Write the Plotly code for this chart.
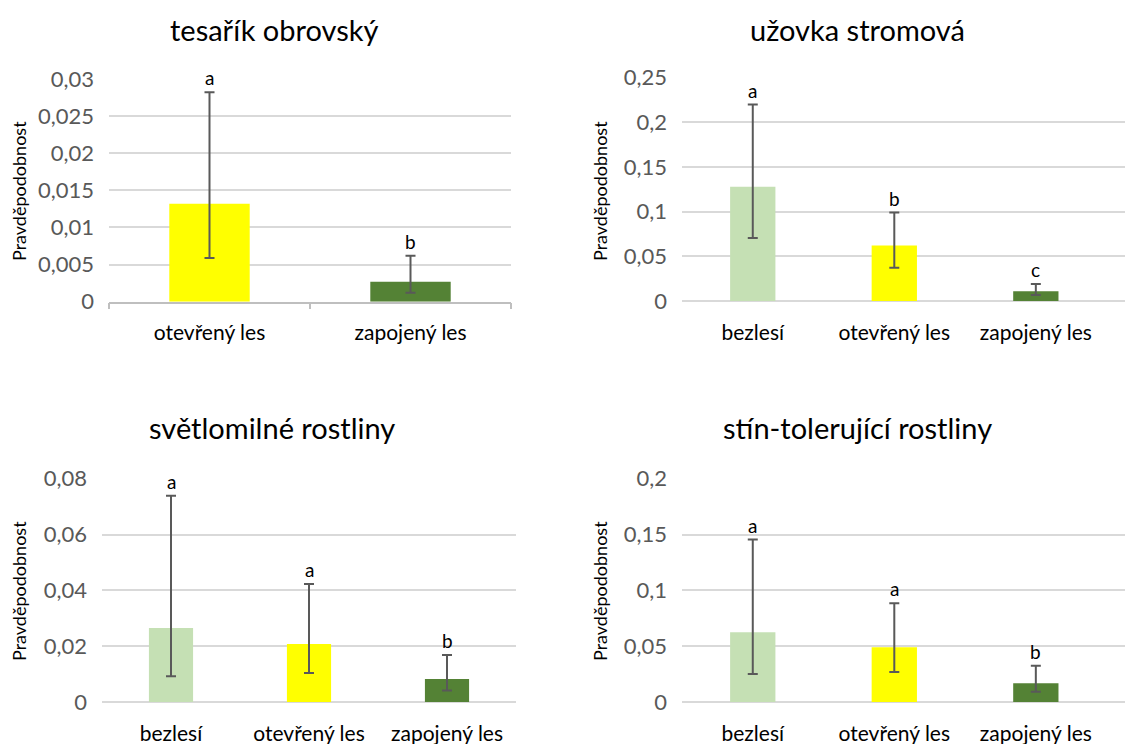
import plotly.graph_objects as go

W, H = 1125, 744

# ---- data ----
titles = ["tesařík obrovský", "užovka stromová", "světlomilné rostliny", "stín-tolerující rostliny"]
cats_2 = ["otevřený les", "zapojený les"]
cats_3 = ["bezlesí", "otevřený les", "zapojený les"]

tesarik_vals = [0.0132, 0.0027]
tesarik_hi = [0.0282, 0.0062]
tesarik_lo = [0.0059, 0.0012]
tesarik_letters = ["a", "b"]

uzovka_vals = [0.128, 0.062, 0.011]
uzovka_hi = [0.220, 0.099, 0.019]
uzovka_lo = [0.0705, 0.0373, 0.0067]
uzovka_letters = ["a", "b", "c"]

svetlo_vals = [0.0265, 0.0208, 0.0082]
svetlo_hi = [0.0739, 0.0423, 0.0168]
svetlo_lo = [0.0092, 0.0104, 0.0041]
svetlo_letters = ["a", "a", "b"]

stin_vals = [0.0624, 0.049, 0.0167]
stin_hi = [0.1455, 0.0884, 0.0325]
stin_lo = [0.0251, 0.0269, 0.0092]
stin_letters = ["a", "a", "b"]

y_ranges = [[0, 0.03], [0, 0.25], [0, 0.08], [0, 0.2]]
y_dticks = [0.005, 0.05, 0.02, 0.05]

col_bez = "#C5E0B4"
col_otev = "#FFFF00"
col_zap = "#548235"
colors_2 = [col_otev, col_zap]
colors_3 = [col_bez, col_otev, col_zap]

FONT = "Lato, 'Open Sans', sans-serif"
GRAY = "#595959"
GRID = "#D9D9D9"

# panel geometry in pixels: (x0, x1, y_top, y_bottom) and x range
panels = [
    dict(x=(109, 511), y=(79, 301.7), xr=[-0.5, 1.5]),
    dict(x=(682, 1125), y=(77.7, 301), xr=[-0.5, 2.63]),
    dict(x=(102, 516), y=(478.7, 702), xr=[-0.5, 2.5]),
    dict(x=(682, 1125), y=(478.7, 702), xr=[-0.5, 2.63]),
]

data = [
    (cats_2, tesarik_vals, tesarik_hi, tesarik_lo, tesarik_letters, colors_2),
    (cats_3, uzovka_vals, uzovka_hi, uzovka_lo, uzovka_letters, colors_3),
    (cats_3, svetlo_vals, svetlo_hi, svetlo_lo, svetlo_letters, colors_3),
    (cats_3, stin_vals, stin_hi, stin_lo, stin_letters, colors_3),
]

fig = go.Figure()
annotations = []
title_pos = [(274, 30), (857, 30), (272, 428), (857, 428)]
ytitle_pos = [(19, 191), (600, 191), (19, 591), (600, 591)]

for i, (p, (cats, vals, hi, lo, letters, cols)) in enumerate(zip(panels, data)):
    n = i + 1
    xa = "x" if n == 1 else f"x{n}"
    ya = "y" if n == 1 else f"y{n}"
    width = 0.4 if len(cats) == 2 else 0.32
    fig.add_trace(go.Bar(
        x=cats, y=vals, marker=dict(color=cols, line=dict(width=0)),
        width=width,
        error_y=dict(type="data", symmetric=False,
                     array=[h - v for h, v in zip(hi, vals)],
                     arrayminus=[v - l for v, l in zip(vals, lo)],
                     color=GRAY, thickness=2, width=5),
        xaxis=xa, yaxis=ya, showlegend=False, hoverinfo="skip",
    ))
    xkey = "xaxis" if n == 1 else f"xaxis{n}"
    ykey = "yaxis" if n == 1 else f"yaxis{n}"
    x0, x1 = p["x"]
    yt, yb = p["y"]
    fig.layout[xkey] = dict(
        domain=[x0 / W, x1 / W], anchor=ya, type="category", range=p["xr"],
        showgrid=False, zeroline=False, automargin=False, fixedrange=True,
        showline=(n == 1), linecolor="#BFBFBF", linewidth=1.5,
        ticks="outside" if n == 1 else "", tickson="boundaries",
        ticklen=6, tickcolor="#BFBFBF", tickwidth=1.5,
        tickfont=dict(family=FONT, size=21, color="#000000"),
        ticklabelstandoff=11 if n == 1 else 17,
    )
    fig.layout[ykey] = dict(
        domain=[(H - yb) / H, (H - yt) / H], anchor=xa,
        range=y_ranges[i], dtick=y_dticks[i], tick0=0,
        automargin=False, fixedrange=True,
        showgrid=True, gridcolor=GRID, gridwidth=1.5,
        zeroline=(n != 1), zerolinecolor=GRID, zerolinewidth=1.5,
        showline=False, ticks="",
        tickfont=dict(family=FONT, size=22, color=GRAY),
        ticklabelstandoff=14,
    )
    # significance letters
    for c, h, L in zip(cats, hi, letters):
        annotations.append(dict(
            x=c, y=h, xref=xa, yref=ya, text=L, showarrow=False,
            yanchor="bottom", yshift=1,
            font=dict(family=FONT, size=19, color="#000000"),
        ))
    tx, ty = title_pos[i]
    annotations.append(dict(
        x=tx / W, y=(H - ty) / H, xref="paper", yref="paper", text=titles[i],
        showarrow=False, xanchor="center", yanchor="middle",
        font=dict(family=FONT, size=29, color="#000000"),
    ))
    ax, ay = ytitle_pos[i]
    annotations.append(dict(
        x=ax / W, y=(H - ay) / H, xref="paper", yref="paper", text="Pravděpodobnost",
        showarrow=False, xanchor="center", yanchor="middle", textangle=-90,
        font=dict(family=FONT, size=18, color="#000000"),
    ))

fig.update_layout(
    width=W, height=H, autosize=False,
    margin=dict(l=0, r=0, t=0, b=0, pad=0, autoexpand=False),
    paper_bgcolor="white", plot_bgcolor="white",
    annotations=annotations, separators=", ",
    bargap=0.6, hovermode=False,
)

fig.write_html("out.html",
               config=dict(displayModeBar=False, responsive=False),
               post_script="document.body.style.margin='0';document.body.style.padding='0';")
